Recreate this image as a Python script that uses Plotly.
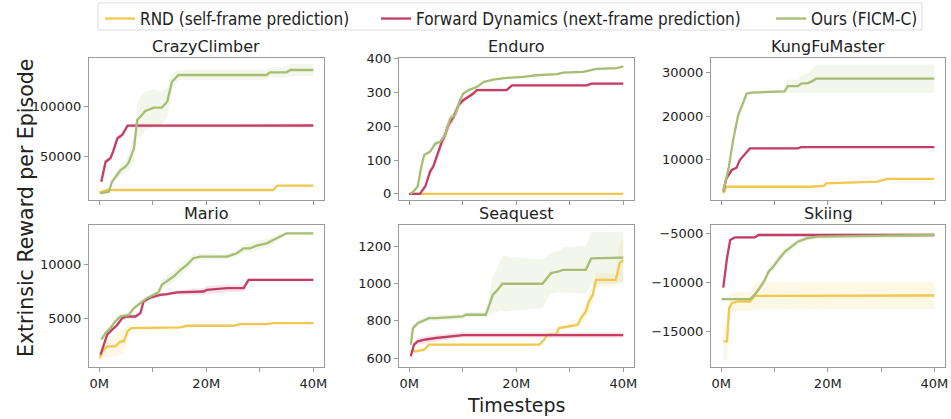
import plotly.graph_objects as go

W, H = 951, 419

methods = ["RND (self-frame prediction)", "Forward Dynamics (next-frame prediction)", "Ours (FICM-C)"]
colors = ["#f0c84e", "#c23f63", "#a6bd74"]
fills = ["rgba(240,200,78,0.14)", "rgba(194,63,99,0.14)", "rgba(166,189,116,0.14)"]

games = ["CrazyClimber", "Enduro", "KungFuMaster", "Mario", "Seaquest", "Skiing"]

# ---- CrazyClimber ----
cc_rnd_x = [0, 1.5, 32.5, 33.3, 40]
cc_rnd_y = [13300, 16000, 16000, 20300, 20300]
cc_rnd_sd = [400, 500, 500, 600, 600]
cc_fd_x = [0.4, 1.2, 2.1, 2.6, 3.4, 4.3, 5.3, 40]
cc_fd_y = [24300, 44300, 47700, 54300, 67700, 71000, 80300, 80500]
cc_fd_sd = [1500, 2000, 2500, 3000, 3000, 2500, 2000, 2000]
cc_ours_x = [0.25, 1.8, 2.4, 4, 4.9, 5.5, 6.5, 7.1, 7.7, 8.6, 10.2, 11.7, 12.7, 13.6, 14.8, 31.3, 31.9, 35, 35.7, 40]
cc_ours_y = [12700, 14300, 24300, 36000, 39300, 43300, 57700, 86000, 89300, 95000, 98300, 98300, 104300, 124300, 131000, 131000, 133700, 133700, 136000, 136000]
cc_ours_sd = [500, 1000, 3000, 5000, 6000, 8000, 12000, 15000, 20000, 20000, 18000, 16000, 15000, 8000, 5000, 5000, 5000, 5500, 6000, 6000]

# ---- Enduro ----
en_rnd_x = [0, 40]
en_rnd_y = [0, 0]
en_rnd_sd = [1, 1]
en_fd_x = [0, 2, 3, 3.9, 4.5, 5.2, 6.1, 6.7, 7.3, 8.3, 9.2, 10.1, 11.1, 12, 12.6, 18.2, 19.2, 33.2, 34.1, 40]
en_fd_y = [0, 0, 22, 66, 81, 115, 154, 174, 203, 228, 262, 277, 287, 297, 307, 307, 321, 321, 326, 326]
en_fd_sd = [0, 0, 5, 10, 12, 15, 18, 20, 20, 15, 10, 8, 6, 5, 5, 5, 5, 5, 5, 5]
en_ours_x = [0.2, 0.8, 1.6, 2.2, 2.8, 3.3, 3.9, 4.9, 5.8, 6.7, 7.7, 8.6, 9.5, 10.1, 11.1, 12.6, 13.9, 15.7, 18.2, 21.3, 23.8, 27.6, 28.8, 32.5, 35, 38.8, 40]
en_ours_y = [0, 7, 22, 76, 115, 120, 125, 149, 154, 174, 223, 233, 277, 297, 307, 316, 331, 338, 343, 346, 351, 354, 359, 361, 370, 372, 377]
en_ours_sd = [1, 2, 3, 5, 6, 6, 6, 6, 6, 8, 10, 8, 6, 5, 4, 4, 4, 3, 3, 3, 3, 3, 3, 3, 3, 3, 3]

# ---- KungFuMaster ----
kf_rnd_x = [0.4, 1, 16.9, 19.4, 19.7, 29.3, 31.2, 40]
kf_rnd_y = [2200, 3700, 3700, 3950, 4500, 4900, 5500, 5500]
kf_rnd_sd = [200, 200, 200, 200, 200, 200, 200, 200]
kf_fd_x = [0.4, 1, 2, 2.9, 3.5, 4.5, 5.4, 14.4, 15, 40]
kf_fd_y = [2600, 5640, 7560, 8100, 9850, 11400, 12540, 12540, 12840, 12840]
kf_fd_sd = [200, 300, 300, 300, 300, 250, 200, 200, 200, 200]
kf_ours_x = [0.4, 1.4, 2.3, 3.2, 4.2, 4.8, 5.7, 8.2, 11.9, 12.5, 14.4, 15, 16.3, 17.2, 17.8, 40]
kf_ours_y = [2600, 7940, 14800, 20200, 23260, 25170, 25400, 25560, 25700, 26900, 26900, 27470, 27600, 28100, 28600, 28600]
kf_ours_sd = [300, 500, 800, 800, 500, 300, 300, 300, 300, 1500, 1500, 2000, 2200, 2800, 3300, 3300]

# ---- Mario ----
ma_rnd_x = [0.1, 0.6, 1.5, 3, 4, 4.6, 5.3, 6, 15.2, 16.4, 25.1, 26.3, 31.3, 32.5, 40]
ma_rnd_y = [1300, 1900, 2380, 2380, 2840, 2840, 3770, 4070, 4140, 4290, 4290, 4440, 4440, 4540, 4540]
ma_rnd_sd = [300, 700, 1000, 1000, 1100, 1100, 500, 100, 100, 100, 100, 100, 100, 100, 100]
ma_fd_x = [0.25, 0.9, 1.5, 2.4, 3.4, 4.3, 5.2, 6.8, 7.7, 8.3, 9.6, 11.4, 12.7, 14.5, 16.4, 19.5, 20.1, 22.6, 23.9, 27, 27.9, 40]
ma_fd_y = [1600, 2530, 3460, 3920, 4380, 5000, 5150, 5150, 5460, 6540, 6910, 7160, 7220, 7380, 7400, 7470, 7620, 7690, 7780, 7780, 8550, 8550]
ma_fd_sd = [200, 200, 200, 200, 200, 200, 200, 200, 200, 200, 150, 150, 150, 200, 250, 300, 350, 350, 350, 300, 150, 150]
ma_ours_x = [0.4, 1.2, 2.1, 3, 4, 5.5, 6.5, 7.7, 8.9, 10.2, 11.1, 11.7, 12.7, 13.9, 15.2, 16.4, 17.6, 18.9, 23.9, 25.7, 27, 28.2, 29.4, 31.3, 32.5, 33.8, 35, 40]
ma_ours_y = [3000, 3610, 4070, 4690, 5160, 5300, 5930, 6390, 6850, 7160, 7400, 8090, 8460, 8860, 9480, 9940, 10560, 10710, 10710, 11020, 11480, 11480, 11730, 11940, 12250, 12560, 12870, 12870]
ma_ours_sd = [150, 200, 200, 200, 200, 200, 200, 200, 200, 250, 300, 400, 500, 550, 550, 500, 400, 300, 250, 300, 350, 400, 450, 450, 350, 250, 150, 150]

# ---- Seaquest ----
sq_rnd_x = [0.3, 1.2, 2.8, 3.7, 24.3, 25.2, 25.9, 27.4, 28, 29.9, 31.5, 32.1, 33, 33.6, 34.3, 34.9, 38.6, 39.3, 40]
sq_rnd_y = [640, 636, 645, 672, 672, 699, 726, 726, 761, 770, 779, 815, 851, 905, 940, 1021, 1021, 1110, 1128]
sq_rnd_sd = [8, 8, 8, 6, 6, 8, 10, 10, 12, 14, 16, 25, 40, 50, 55, 40, 30, 100, 120]
sq_fd_x = [0.3, 0.9, 1.6, 3.1, 5, 7.5, 10, 10.1, 40]
sq_fd_y = [610, 672, 690, 700, 708, 717, 724, 724, 724]
sq_fd_sd = [15, 15, 18, 18, 18, 16, 15, 15, 15]
sq_ours_x = [0.3, 0.7, 1.6, 2.8, 3.7, 5, 10, 10.6, 14.3, 15, 15.6, 16.5, 17.1, 17.4, 24.9, 25.5, 26.5, 28, 28.7, 33, 34, 40]
sq_ours_y = [672, 761, 788, 806, 815, 815, 824, 833, 833, 887, 940, 967, 994, 1000, 1000, 1021, 1057, 1066, 1075, 1075, 1137, 1141]
sq_ours_sd = [10, 15, 15, 15, 15, 15, 15, 15, 15, 60, 100, 120, 140, 150, 130, 120, 110, 110, 120, 130, 140, 140]

# ---- Skiing ----
sk_rnd_x = [0.4, 1.1, 1.5, 2, 3.2, 5.4, 6.3, 40]
sk_rnd_y = [-16020, -16020, -12630, -12120, -11950, -11950, -11370, -11340]
sk_rnd_sd = [2000, 1800, 1200, 1000, 1000, 1000, 1400, 1400]
sk_fd_x = [0.4, 1.1, 1.7, 2.6, 6.3, 7, 40]
sk_fd_y = [-10530, -7540, -5680, -5410, -5410, -5170, -5170]
sk_fd_sd = [200, 200, 150, 150, 150, 150, 150]
sk_ours_x = [0.1, 5.4, 6, 7, 8.2, 8.9, 9.8, 10.7, 12, 13.2, 14.4, 16, 18.1, 40]
sk_ours_y = [-11710, -11710, -11440, -10760, -9750, -8900, -8390, -7710, -6860, -6360, -5850, -5510, -5340, -5170]
sk_ours_sd = [150, 150, 200, 300, 400, 450, 450, 450, 400, 350, 300, 250, 250, 250]

data = [
    [(cc_rnd_x, cc_rnd_y, cc_rnd_sd), (cc_fd_x, cc_fd_y, cc_fd_sd), (cc_ours_x, cc_ours_y, cc_ours_sd)],
    [(en_rnd_x, en_rnd_y, en_rnd_sd), (en_fd_x, en_fd_y, en_fd_sd), (en_ours_x, en_ours_y, en_ours_sd)],
    [(kf_rnd_x, kf_rnd_y, kf_rnd_sd), (kf_fd_x, kf_fd_y, kf_fd_sd), (kf_ours_x, kf_ours_y, kf_ours_sd)],
    [(ma_rnd_x, ma_rnd_y, ma_rnd_sd), (ma_fd_x, ma_fd_y, ma_fd_sd), (ma_ours_x, ma_ours_y, ma_ours_sd)],
    [(sq_rnd_x, sq_rnd_y, sq_rnd_sd), (sq_fd_x, sq_fd_y, sq_fd_sd), (sq_ours_x, sq_ours_y, sq_ours_sd)],
    [(sk_rnd_x, sk_rnd_y, sk_rnd_sd), (sk_fd_x, sk_fd_y, sk_fd_sd), (sk_ours_x, sk_ours_y, sk_ours_sd)],
]

y_ranges = [[6000, 148000], [-18, 402], [650, 33370], [463, 13640], [552, 1316], [-18630, -4150]]
y_ticks = [[50000, 100000], [0, 100, 200, 300, 400], [10000, 20000, 30000],
           [5000, 10000], [600, 800, 1000, 1200], [-15000, -10000, -5000]]
y_ticktext = [["50000", "100000"], ["0", "100", "200", "300", "400"], ["10000", "20000", "30000"],
              ["5000", "10000"], ["600", "800", "1000", "1200"], ["−15000", "−10000", "−5000"]]
x_ticks = [0, 10, 20, 30, 40]
x_ticktext = ["0M", "", "20M", "", "40M"]

# pixel boxes of the six panels (left, right, top, bottom)
col_px = [(89, 324), (399, 634), (711, 945)]
row_px = [(58, 200), (225, 367)]
legend_x_px = [100, 376, 771]   # left edge of each legend entry
legend_box_px = (98, 922, 3, 30)

fig = go.Figure()
font_main = "DejaVu Sans"
axis_col = "#9a9a9a"
legend_names = ["legend", "legend2", "legend3"]

for i, g in enumerate(games):
    r, c = divmod(i, 3)
    k = i + 1
    xa = "x" if k == 1 else f"x{k}"
    ya = "y" if k == 1 else f"y{k}"
    for m in range(3):
        xs, ys, sd = data[i][m]
        hi = [a + b for a, b in zip(ys, sd)]
        lo = [a - b for a, b in zip(ys, sd)]
        fig.add_trace(go.Scatter(x=xs + xs[::-1], y=hi + lo[::-1], fill="toself",
                                 fillcolor=fills[m], line=dict(width=0), mode="lines",
                                 hoverinfo="skip", showlegend=False, xaxis=xa, yaxis=ya))
    for m in range(3):
        xs, ys, sd = data[i][m]
        fig.add_trace(go.Scatter(x=xs, y=ys, mode="lines", name=methods[m],
                                 line=dict(color=colors[m], width=2.3),
                                 showlegend=(i == 0), legend=legend_names[m],
                                 xaxis=xa, yaxis=ya))
    x0, x1 = col_px[c]
    y0, y1 = row_px[r]
    xd = [x0 / W, x1 / W]
    yd = [1 - y1 / H, 1 - y0 / H]
    common = dict(showline=True, mirror=True, linecolor=axis_col, linewidth=1,
                  ticks="outside", ticklen=4, tickcolor=axis_col, showgrid=False,
                  zeroline=False, automargin=False,
                  tickfont=dict(family=font_main, size=13, color="#222"))
    fig.layout[f"xaxis{'' if k == 1 else k}"] = dict(
        domain=xd, anchor=ya, range=[-1.9, 42.0], tickvals=x_ticks,
        ticktext=x_ticktext if r == 1 else [""] * 5, **common)
    fig.layout[f"yaxis{'' if k == 1 else k}"] = dict(
        domain=yd, anchor=xa, range=y_ranges[i], tickvals=y_ticks[i],
        ticktext=y_ticktext[i], **common)
    fig.add_annotation(text=g, xref="paper", yref="paper", x=(xd[0] + xd[1]) / 2,
                       y=yd[1], yanchor="bottom", xanchor="center", showarrow=False,
                       yshift=0, font=dict(family=font_main, size=16, color="#222"))

fig.add_annotation(text="Extrinsic Reward per Episode", xref="paper", yref="paper",
                   x=26 / W, y=1 - 208 / H, textangle=-90, showarrow=False,
                   xanchor="center", yanchor="middle",
                   font=dict(family=font_main, size=20.5, color="#222"))
fig.add_annotation(text="Timesteps", xref="paper", yref="paper",
                   x=516 / W, y=1 - 405 / H, showarrow=False,
                   xanchor="center", yanchor="middle",
                   font=dict(family=font_main, size=19, color="#222"))

# frame around the legend entries
bx0, bx1, by0, by1 = legend_box_px
fig.add_shape(type="rect", xref="paper", yref="paper", x0=bx0 / W, x1=bx1 / W,
              y0=1 - by1 / H, y1=1 - by0 / H, line=dict(color="#dddddd", width=1),
              fillcolor="white", layer="below")

leg_common = dict(orientation="h", y=1 - 1 / H, xanchor="left", yanchor="top",
                  bgcolor="rgba(0,0,0,0)", borderwidth=0,
                  font=dict(family="DejaVu Sans Condensed, DejaVu Sans", size=17, color="#222"),
                  itemwidth=30)

fig.update_layout(
    width=W, height=H, margin=dict(l=0, r=0, t=0, b=0, autoexpand=False),
    paper_bgcolor="white", plot_bgcolor="white",
    legend=dict(x=legend_x_px[0] / W, **leg_common),
    legend2=dict(x=legend_x_px[1] / W, **leg_common),
    legend3=dict(x=legend_x_px[2] / W, **leg_common),
)

fig.write_html("out.html", config={"displayModeBar": False},
               post_script="document.body.style.margin='0';document.body.style.padding='0';document.documentElement.style.overflow='hidden';")
